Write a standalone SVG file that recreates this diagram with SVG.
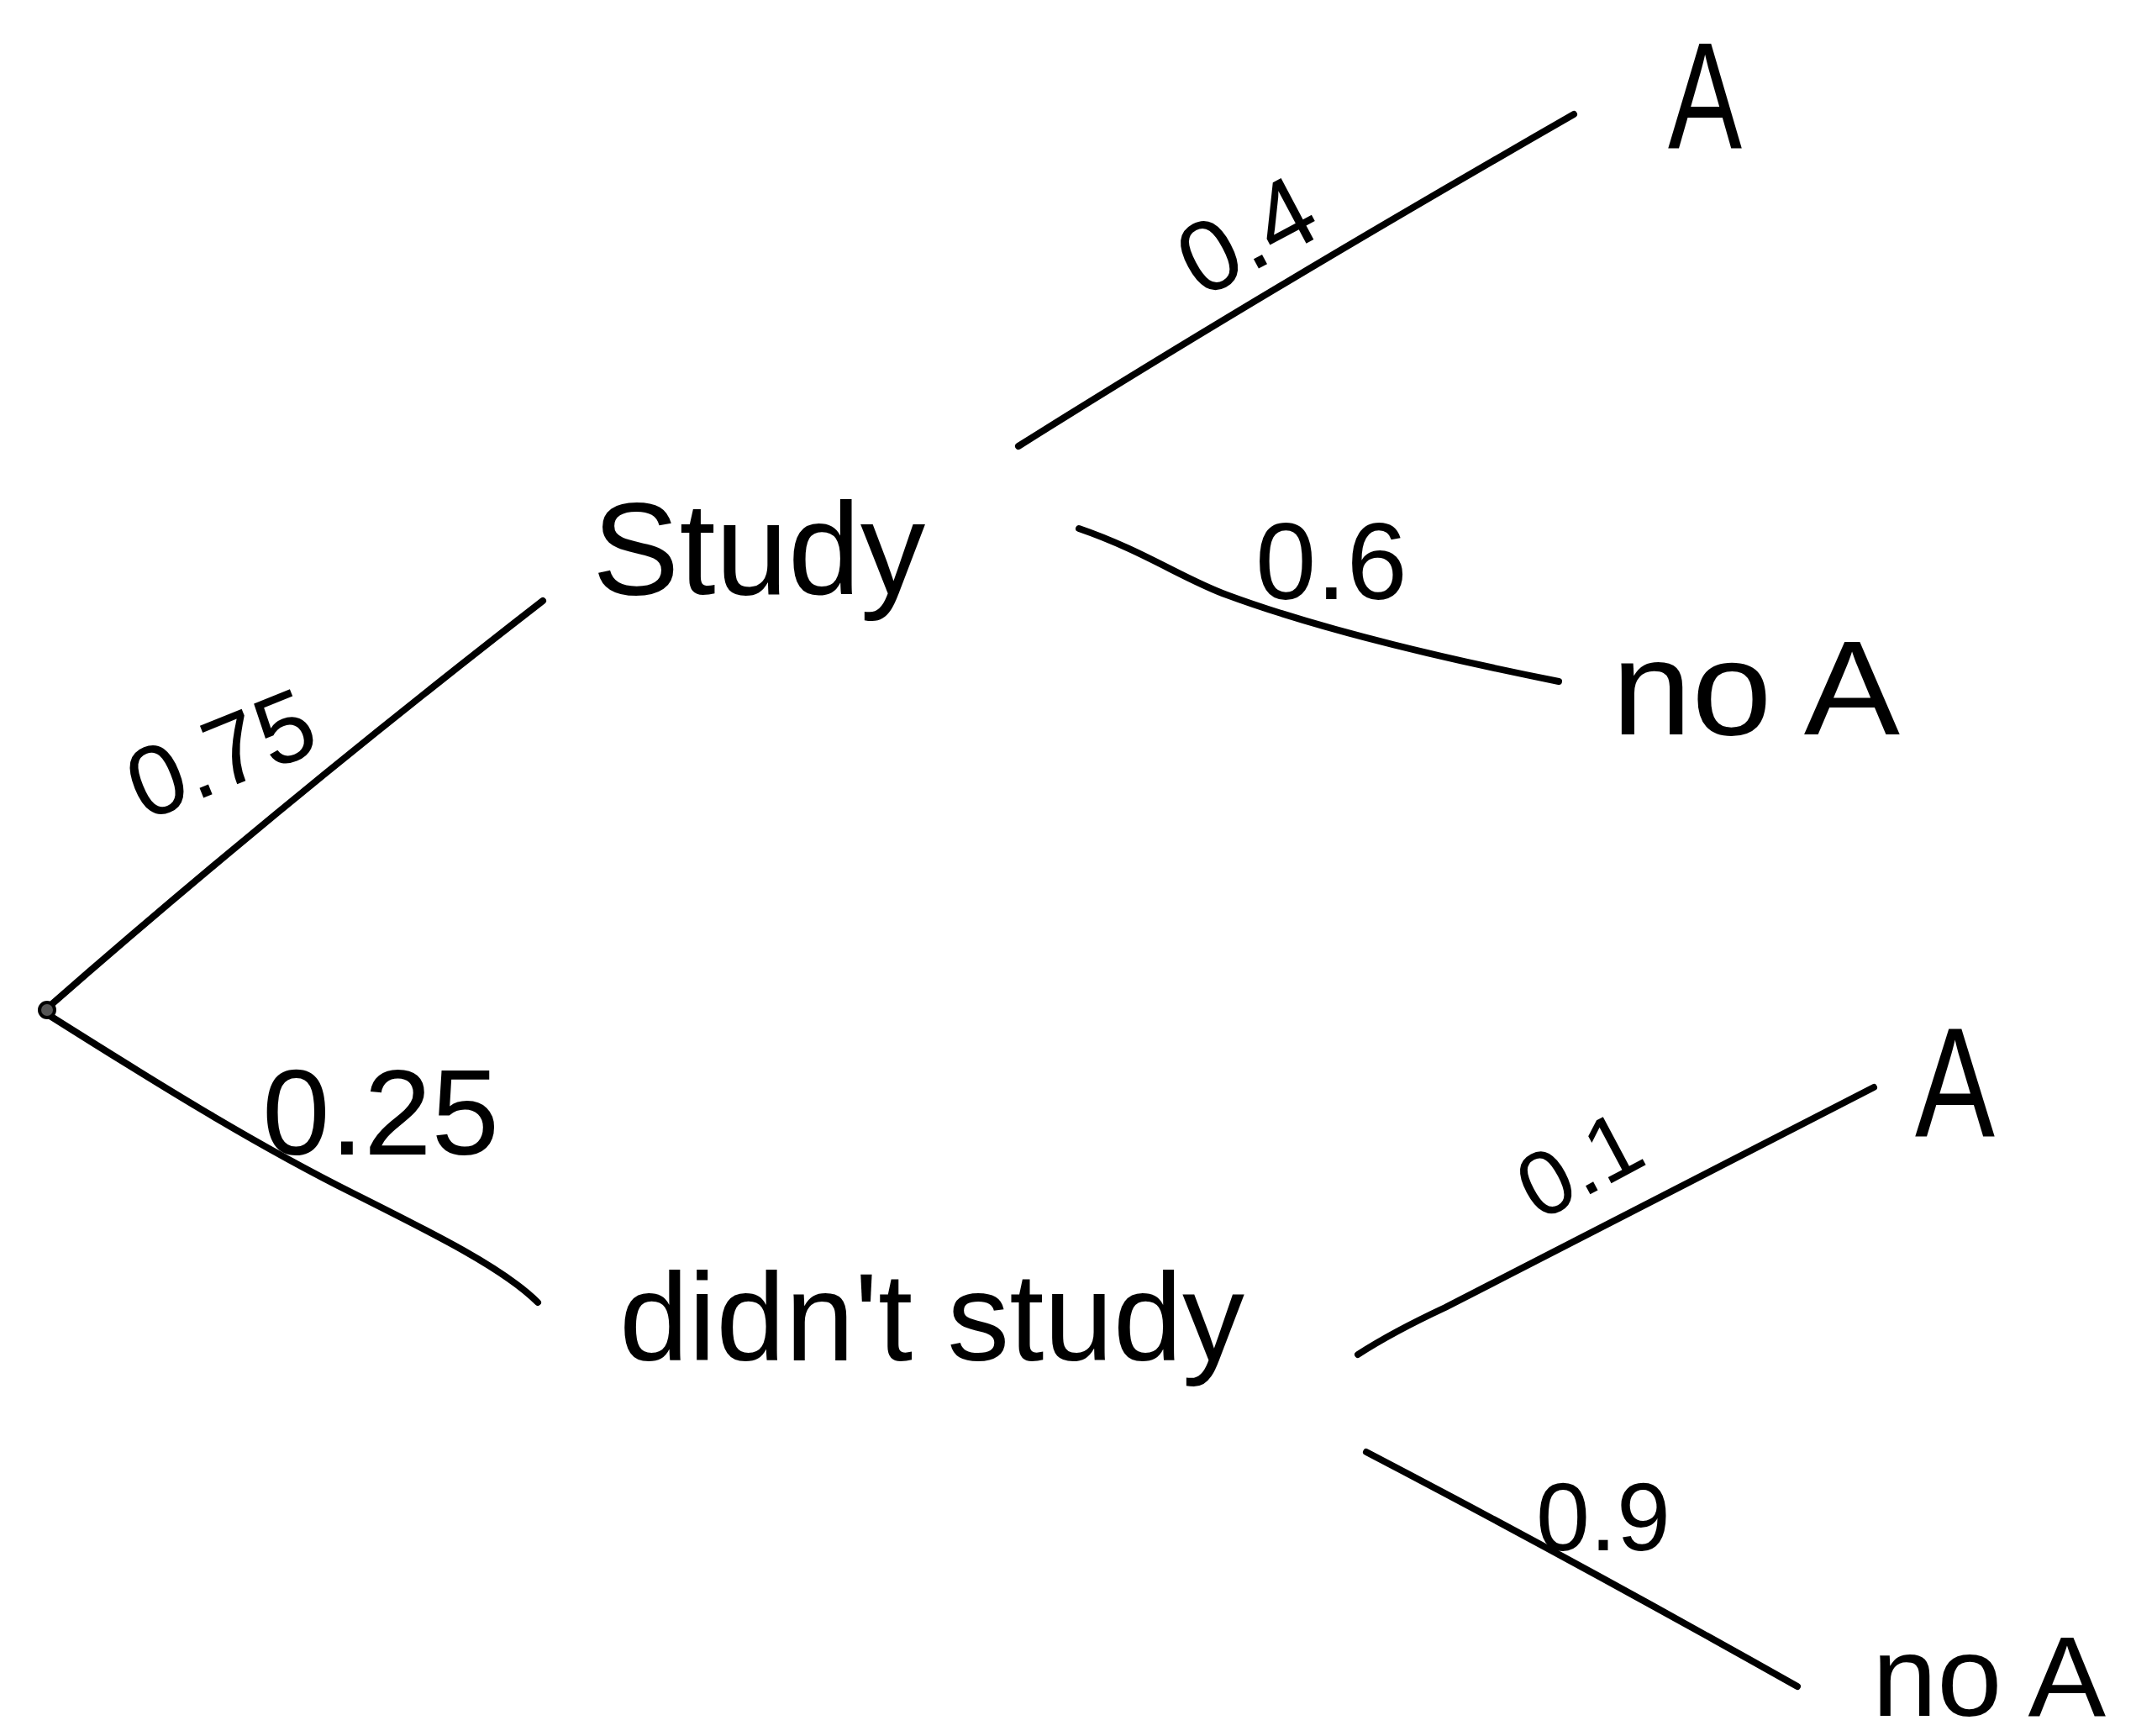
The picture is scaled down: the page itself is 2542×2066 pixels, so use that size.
<svg xmlns="http://www.w3.org/2000/svg" width="2542" height="2066" viewBox="0 0 2542 2066">
<style>
.edge{fill:none;stroke:#000;stroke-width:8;stroke-linecap:round;stroke-linejoin:round}
.t{font-family:"Liberation Sans",Arial,sans-serif;fill:#000}
</style>
<rect width="2542" height="2066" fill="#fff"/>
<g id="connectors">
<path class="edge" d="M56,1200 Q330,960 646,715"/>
<path class="edge" d="M1212,531 Q1500,350 1873,136"/>
<path class="edge" d="M1284,629 C1360,655 1410,690 1460,708 C1560,745 1700,780 1855,811"/>
<path class="edge" d="M58,1208 C180,1285 300,1360 420,1420 C520,1470 600,1510 640,1550"/>
<path class="edge" d="M1616,1612 C1650,1590 1690,1570 1720,1556 L2230,1294"/>
<path class="edge" d="M1626,1728 Q1860,1850 2139,2007"/>
</g>
<g id="root"><circle cx="56" cy="1202" r="9" fill="#555" stroke="#000" stroke-width="4"/></g>
<g id="study"><text class="t" x="705" y="707" font-size="155">Study</text></g>
<g id="didnt-study"><text class="t" x="737" y="1619" font-size="148">didn't study</text></g>
<g id="study-A"><text class="t" x="1985" y="176" font-size="180" textLength="88" lengthAdjust="spacingAndGlyphs">A</text></g>
<g id="study-noA"><text class="t" x="1918" y="874" font-size="160" textLength="343" lengthAdjust="spacingAndGlyphs">no A</text></g>
<g id="didnt-A"><text class="t" x="2279" y="1352" font-size="185" textLength="95" lengthAdjust="spacingAndGlyphs">A</text></g>
<g id="didnt-noA"><text class="t" x="2228" y="2042" font-size="136" textLength="278" lengthAdjust="spacingAndGlyphs">no A</text></g>
<g id="labels">
<text class="t" x="278" y="935" font-size="118" text-anchor="middle" transform="rotate(-22 278 935)">0.75</text>
<text class="t" x="1503" y="317" font-size="120" text-anchor="middle" transform="rotate(-28 1503 317)">0.4</text>
<text class="t" x="1494" y="713" font-size="130">0.6</text>
<text class="t" x="312" y="1374" font-size="145">0.25</text>
<text class="t" x="1897" y="1419" font-size="108" text-anchor="middle" transform="rotate(-28 1897 1419)">0.1</text>
<text class="t" x="1828" y="1845" font-size="115">0.9</text>
</g>
</svg>
